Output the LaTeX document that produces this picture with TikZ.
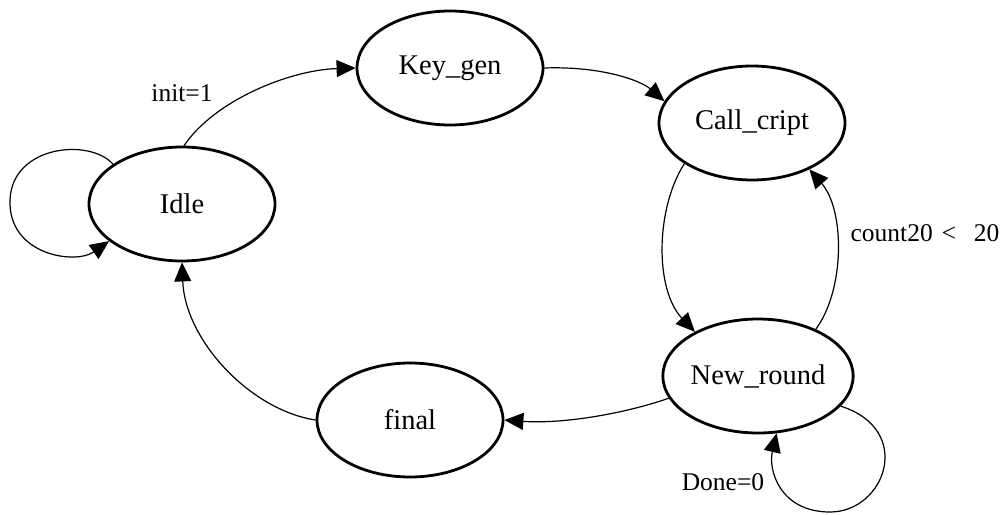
\documentclass[tikz,border=0pt]{standalone}
\usepackage{fontspec}
\setmainfont{Liberation Serif}
\usetikzlibrary{shapes.geometric,arrows.meta}
\begin{document}
\begin{tikzpicture}[x=1pt,y=-1pt,
  state/.style={ellipse,draw,line width=2.8pt,minimum width=186pt,minimum height=114pt,
    inner sep=0pt,font=\fontsize{28.5}{34}\selectfont},
  trans/.style={line width=1.2pt,-{Triangle[length=19pt,width=17pt]}},
  lbl/.style={font=\fontsize{25.5}{30}\selectfont,inner sep=0pt}]
\useasboundingbox[fill=white] (0,0) rectangle (1008,514);

% states
\node[state] (idle)   at (182,204) {Idle};
\node[state] (keygen) at (450,68)  {Key\_gen};
\node[state] (call)   at (752,123) {Call\_cript};
\node[state] (newr)   at (758,376) {New\_round};
\node[state] (final)  at (410,420) {final};

% transitions
\draw[trans] (idle.150) .. controls (90,138) and (12,145) .. (10,200)
  .. controls (8,255) and (75,265) .. (idle.207);
\draw[trans] (idle.88) .. controls (215,100) and (290,70) .. (keygen.180);
\draw[trans] (keygen.0) .. controls (600,66) and (640,80) .. (call.166);
\draw[trans] (call.211) .. controls (655,210) and (655,290) .. (newr.145);
\draw[trans] (newr.39) .. controls (845,290) and (845,210) .. (call.321);
\draw[trans] (newr.340) .. controls (915,430) and (885,512) .. (830,512)
  .. controls (780,512) and (768,470) .. (newr.288);
\draw[trans] (newr.194) .. controls (620,415) and (560,424) .. (final.0);
\draw[trans] (final.180) .. controls (250,410) and (185,340) .. (idle.270);

% guards
\node[lbl] (l1) at (182,93)  {init=1};
\node[lbl] (l2) at (925,233) {count20\hspace{0.35em}<\hspace{0.7em}20};
\node[lbl] (l3) at (723,482) {Done=0};
\end{tikzpicture}
\end{document}
